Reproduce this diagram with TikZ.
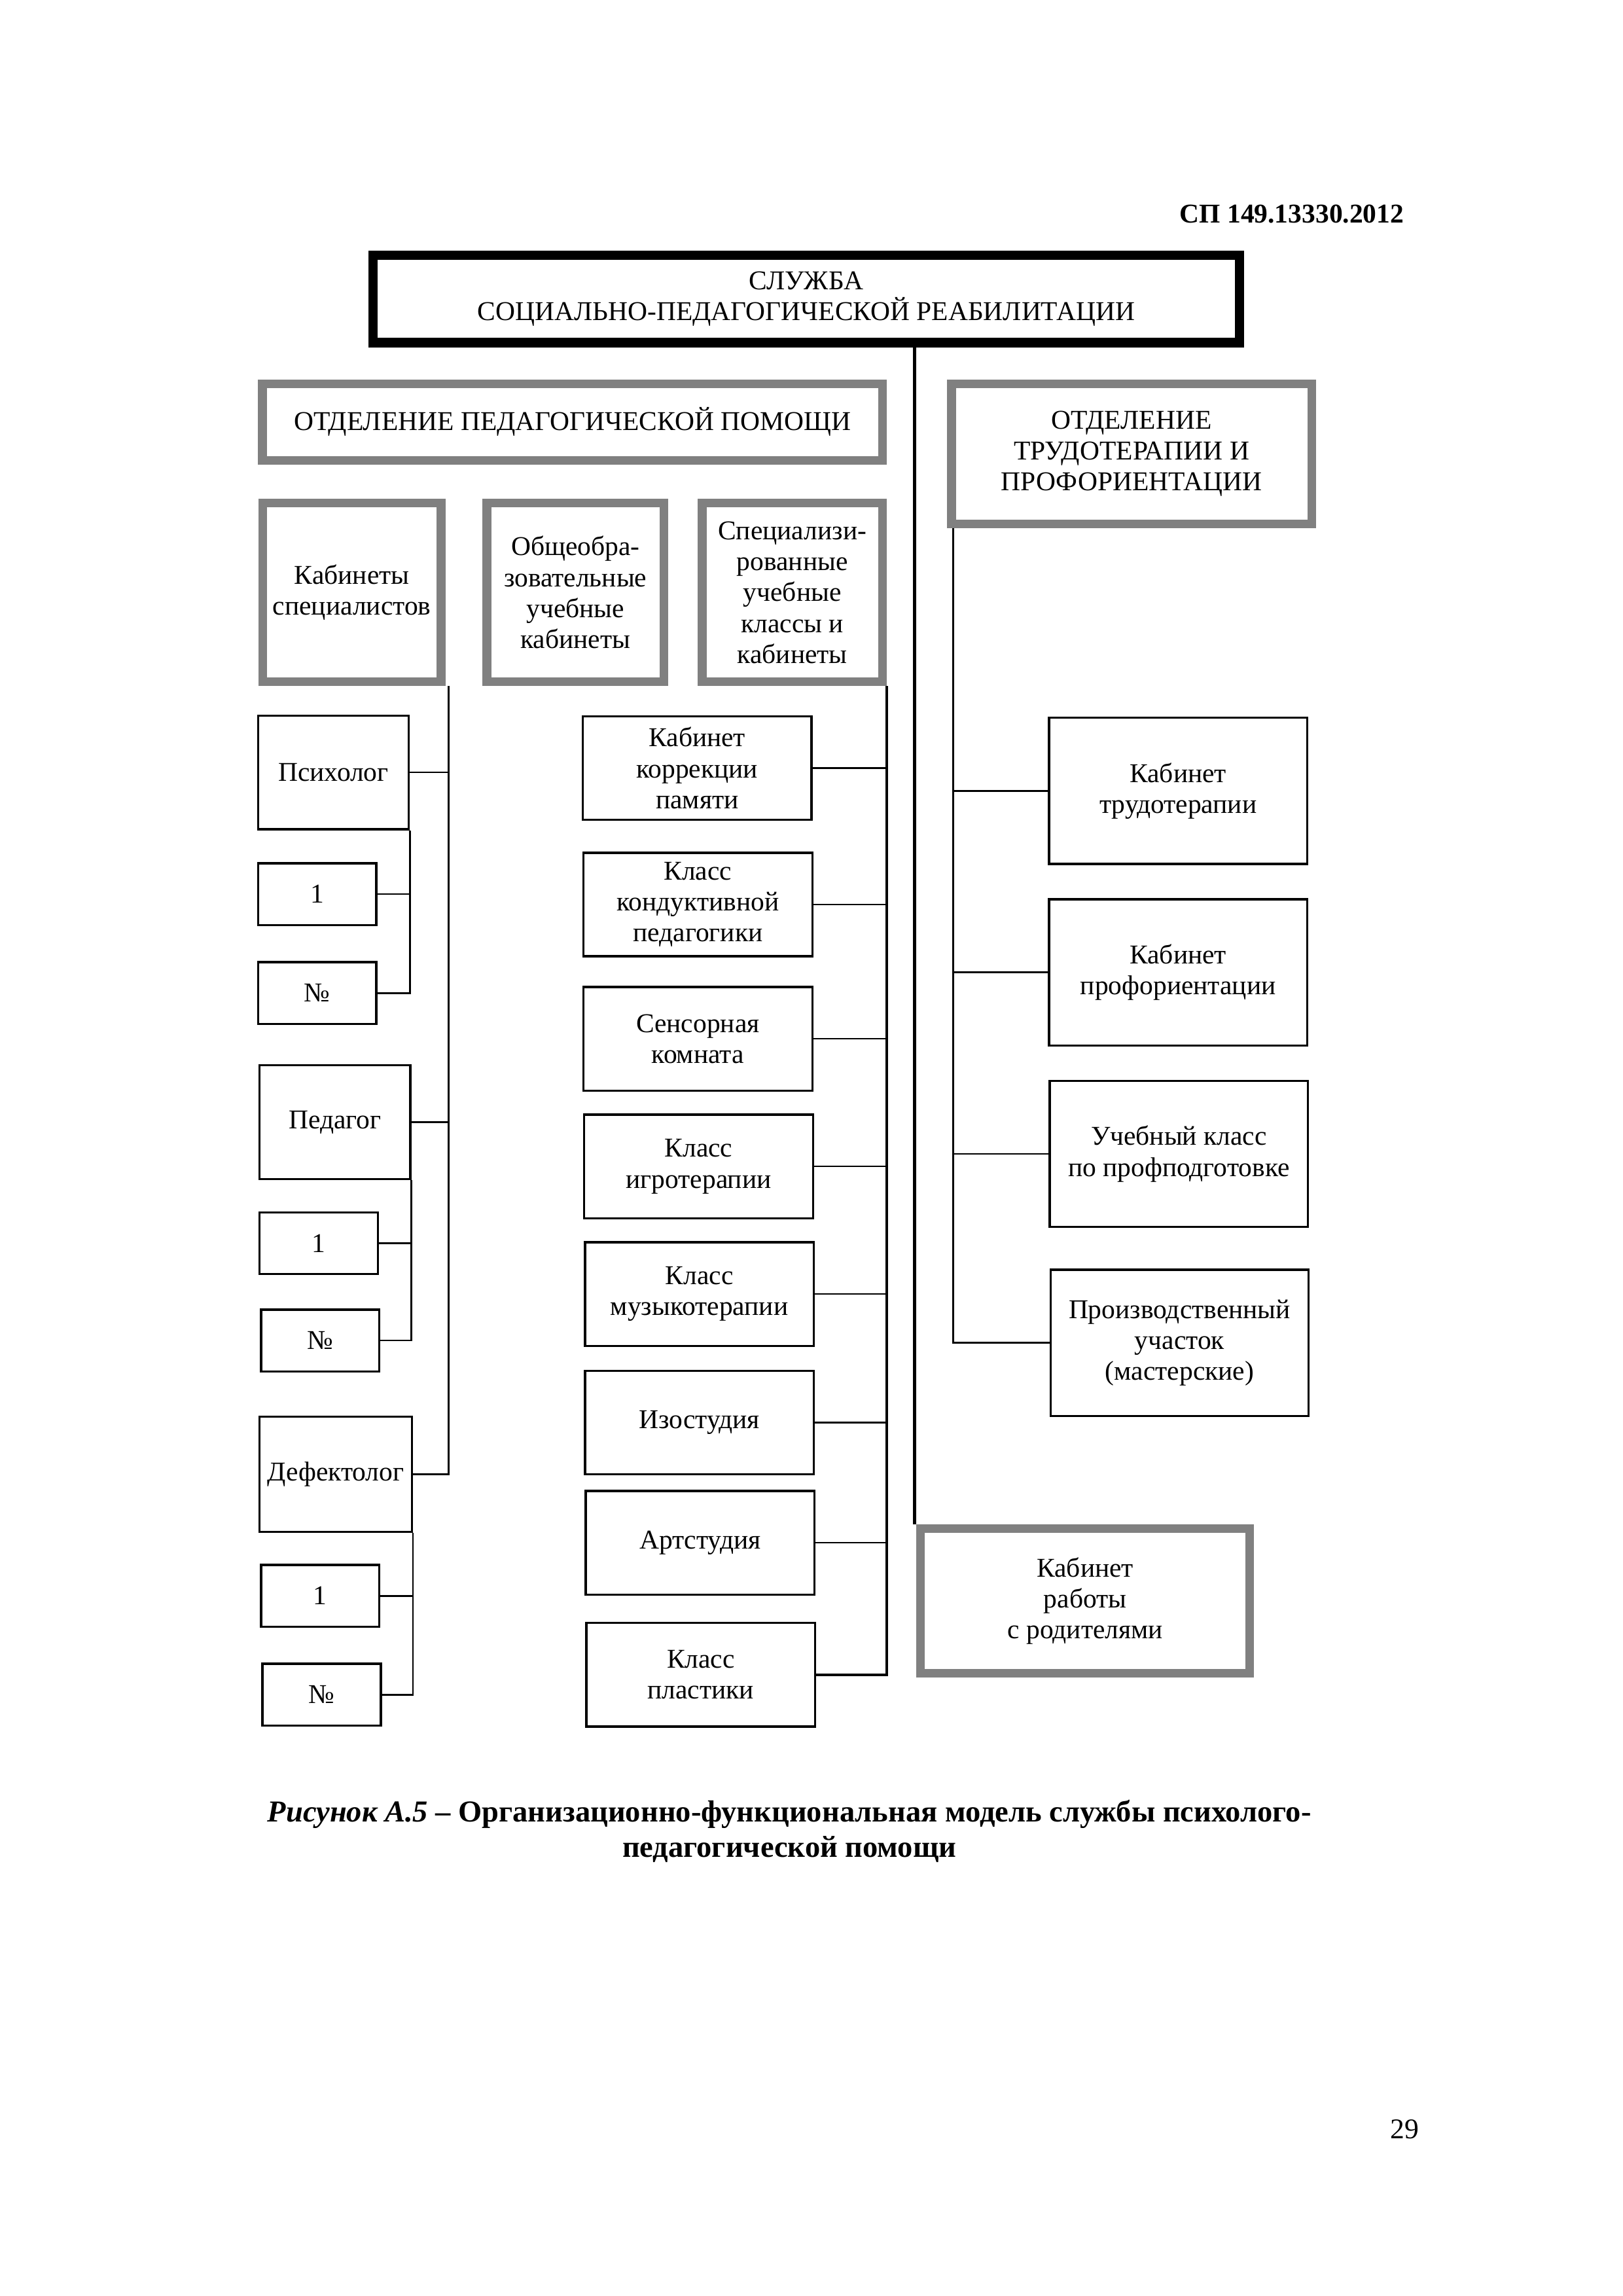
\documentclass[tikz,border=0pt]{standalone}
\usepackage{fontspec}
\setmainfont{Liberation Serif}

\begin{document}
\begin{tikzpicture}[x=0.0190909cm, y=-0.0190909cm,
    font=\fontsize{10}{11.4}\selectfont,
    mainbox/.style={draw, line width=3.5pt, align=center, inner sep=1pt},
    deptbox/.style={draw=black!50, line width=3.2pt, align=center, inner sep=1pt},
    unitbox/.style={draw, line width=0.8pt, align=center, inner sep=1pt},
    link/.style={line width=0.6pt}]

      \useasboundingbox (0,0) rectangle (1100,1556);

      \node[font=\bfseries\fontsize{10}{12}\selectfont, anchor=east] (code) at (958,145) {СП 149.13330.2012};

      \node[mainbox, minimum width=11.21cm, minimum height=1.13cm] (sluzhba) at (546.5,202.5)
        {СЛУЖБА\\СОЦИАЛЬНО-ПЕДАГОГИЧЕСКОЙ РЕАБИЛИТАЦИИ};

      \node[deptbox, minimum width=8.02cm, minimum height=0.99cm] (pedotd) at (388,286) {ОТДЕЛЕНИЕ ПЕДАГОГИЧЕСКОЙ ПОМОЩИ};
      \node[deptbox, minimum width=4.66cm, minimum height=1.81cm] (trudotd) at (767,307.5) {ОТДЕЛЕНИЕ\\ТРУДОТЕРАПИИ И\\ПРОФОРИЕНТАЦИИ};

      \node[deptbox, minimum width=2.31cm, minimum height=2.31cm] (spec) at (238.5,401.5) {Кабинеты\\специалистов};
      \node[deptbox, minimum width=2.29cm, minimum height=2.31cm] (obsh) at (390,401.5) {Общеобра-\\зовательные\\учебные\\кабинеты};
      \node[deptbox, minimum width=2.33cm, minimum height=2.31cm] (spcl) at (537,401.5) {Специализи-\\рованные\\учебные\\классы и\\кабинеты};

      % specialists
      \node[unitbox, minimum width=1.95cm, minimum height=1.47cm] (psych) at (226,523.5) {Психолог};
      \node[unitbox, minimum width=1.53cm, minimum height=0.80cm] (psych1) at (215,606) {1};
      \node[unitbox, minimum width=1.53cm, minimum height=0.80cm] (psychN) at (215,673) {№};

      \node[unitbox, minimum width=1.95cm, minimum height=1.47cm] (ped) at (227,760.5) {Педагог};
      \node[unitbox, minimum width=1.53cm, minimum height=0.80cm] (ped1) at (216,842.5) {1};
      \node[unitbox, minimum width=1.53cm, minimum height=0.80cm] (pedN) at (217,908.5) {№};

      \node[unitbox, minimum width=1.97cm, minimum height=1.49cm] (defekt) at (227.5,999) {Дефектолог};
      \node[unitbox, minimum width=1.53cm, minimum height=0.80cm] (defekt1) at (217,1081.5) {1};
      \node[unitbox, minimum width=1.53cm, minimum height=0.80cm] (defektN) at (218,1148.5) {№};

      % special classes
      \node[unitbox, minimum width=2.96cm, minimum height=1.34cm] (korr) at (472.5,520.5) {Кабинет\\коррекции\\памяти};
      \node[unitbox, minimum width=2.96cm, minimum height=1.34cm] (kond) at (473,613) {Класс\\кондуктивной\\педагогики};
      \node[unitbox, minimum width=2.96cm, minimum height=1.34cm] (sens) at (473,704) {Сенсорная\\комната};
      \node[unitbox, minimum width=2.96cm, minimum height=1.34cm] (igro) at (473.5,790.5) {Класс\\игротерапии};
      \node[unitbox, minimum width=2.96cm, minimum height=1.34cm] (muz) at (474,877) {Класс\\музыкотерапии};
      \node[unitbox, minimum width=2.96cm, minimum height=1.34cm] (izo) at (474,964) {Изостудия};
      \node[unitbox, minimum width=2.96cm, minimum height=1.34cm] (art) at (474.5,1045.5) {Артстудия};
      \node[unitbox, minimum width=2.96cm, minimum height=1.34cm] (plast) at (475,1135) {Класс\\пластики};

      % labour therapy
      \node[unitbox, minimum width=3.34cm, minimum height=1.89cm] (trud) at (798.5,536) {Кабинет\\трудотерапии};
      \node[unitbox, minimum width=3.34cm, minimum height=1.89cm] (prof) at (798.5,659) {Кабинет\\профориентации};
      \node[unitbox, minimum width=3.34cm, minimum height=1.89cm] (uchkl) at (799,782) {Учебный класс\\по профподготовке};
      \node[unitbox, minimum width=3.34cm, minimum height=1.89cm] (proizv) at (799.5,910) {Производственный\\участок\\(мастерские)};

      \node[deptbox, minimum width=4.26cm, minimum height=1.87cm] (parents) at (735.5,1085) {Кабинет\\работы\\с родителями};

      \node[font=\bfseries\fontsize{11.2}{13}\selectfont, align=center] (caption) at (535,1241)
        {\textit{Рисунок А.5} – Организационно-функциональная модель службы психолого-\\педагогической помощи};
      \node[font=\fontsize{10.5}{12}\selectfont] (page) at (952,1443) {29};

      % trunk
      \coordinate (trunk) at (620,0);
      \draw[link, line width=1.2pt] (sluzhba.south -| trunk) -- (parents.north -| trunk);

      % left bus
      \draw[link] (spec.south east) ++(2,0) coordinate (lbus) -- (lbus |- defekt.east) -- (defekt.east);
      \draw[link] (psych.east) -- (psych.east -| lbus);
      \draw[link] (ped.east) -- (ped.east -| lbus);

      \draw[link] (psych.south east) -- (psych.south east |- psychN.east) -- (psychN.east);
      \draw[link] (psych1.east) -- (psych1.east -| psych.south east);
      \draw[link] (ped.south east) -- (ped.south east |- pedN.east) -- (pedN.east);
      \draw[link] (ped1.east) -- (ped1.east -| ped.south east);
      \draw[link] (defekt.south east) -- (defekt.south east |- defektN.east) -- (defektN.east);
      \draw[link] (defekt1.east) -- (defekt1.east -| defekt.south east);

      % middle bus
      \draw[link, line width=0.9pt] (spcl.south east) -- (spcl.south east |- plast.east) -- (plast.east);
      \foreach \r in {korr,kond,sens,igro,muz,izo,art}
        \draw[link] (\r.east) -- (\r.east -| spcl.south east);

      % right bus
      \draw[link, line width=0.9pt] (trudotd.south west) ++(4,0) coordinate (rbus) -- (rbus |- proizv.west) -- (proizv.west);
      \foreach \r in {trud,prof,uchkl}
        \draw[link] (\r.west -| rbus) -- (\r.west);

    \end{tikzpicture}
\end{document}
